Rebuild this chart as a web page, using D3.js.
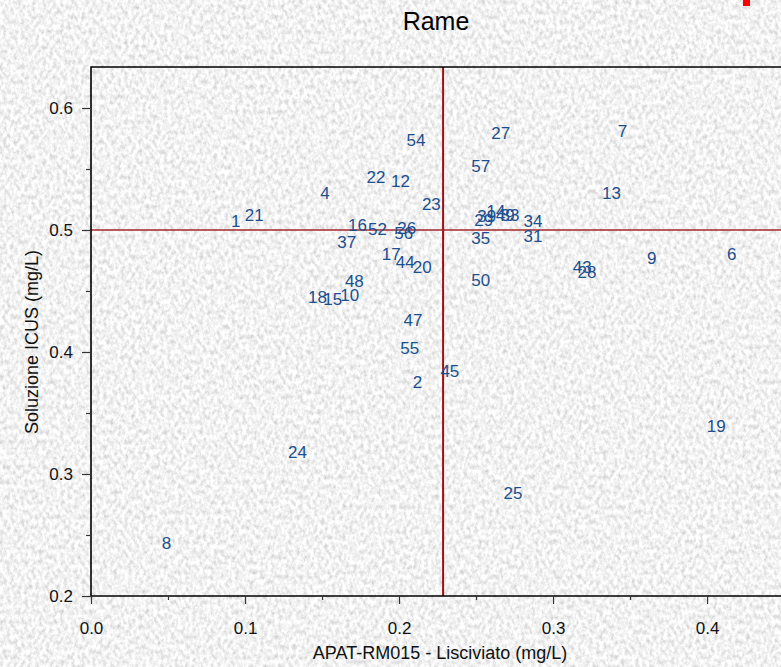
<!DOCTYPE html>
<html>
<head>
<meta charset="utf-8">
<script src="https://cdn.jsdelivr.net/npm/d3@7/dist/d3.min.js"></script>
<style>
  html, body { margin: 0; padding: 0; background: #e4e4e4; }
  svg { display: block; }
  text { font-family: "Liberation Sans", Arial, sans-serif; }
</style>
</head>
<body>
<svg id="chart" width="781" height="667"></svg>
<script>
// Copper (Rame): leachate concentration vs. ICUS solution, one label per sample
const sampleIds = ["54","27","7","57","22","12","4","13","23","1","21","16","52","26","56","37",
  "29","39","14","49","33","34","35","31","17","44","20","48","18","15","10","50","43","28",
  "9","6","47","55","45","2","19","24","25","8"];
const leachate = [0.211,0.266,0.345,0.253,0.185,0.201,0.152,0.338,0.221,0.094,0.106,0.173,0.186,0.205,0.203,0.166,
  0.255,0.257,0.263,0.269,0.272,0.287,0.253,0.287,0.195,0.204,0.215,0.171,0.147,0.157,0.168,0.253,0.319,0.322,
  0.364,0.416,0.209,0.207,0.233,0.212,0.406,0.134,0.274,0.049];
const icus = [0.573,0.579,0.581,0.552,0.543,0.540,0.530,0.530,0.521,0.507,0.512,0.504,0.500,0.501,0.497,0.490,
  0.508,0.511,0.515,0.512,0.512,0.507,0.493,0.495,0.480,0.473,0.469,0.458,0.445,0.443,0.446,0.459,0.469,0.465,
  0.477,0.480,0.426,0.403,0.384,0.375,0.339,0.318,0.284,0.243];
const xTicks = [0.0, 0.1, 0.2, 0.3, 0.4];
const xMinorTicks = [0.05, 0.15, 0.25, 0.35, 0.45];
const yTicks = [0.2, 0.3, 0.4, 0.5, 0.6];
const yMinorTicks = [0.25, 0.35, 0.45, 0.55];
const refX = 0.2286;   // reference value on the leachate axis
const refY = 0.5;      // reference value on the ICUS axis

const svg = d3.select("#chart");
const W = 781, H = 667;
const m = { left: 91, top: 67, bottom: 596 };

// textured grey background
const defs = svg.append("defs");
const f = defs.append("filter").attr("id", "grain").attr("x", 0).attr("y", 0)
  .attr("width", "100%").attr("height", "100%");
f.append("feTurbulence").attr("type", "fractalNoise").attr("baseFrequency", "0.28 0.2")
  .attr("numOctaves", 3).attr("seed", 7).attr("result", "n");
f.append("feColorMatrix").attr("type", "matrix")
  .attr("values", "0.7 0 0 0 0.54  0.7 0 0 0 0.54  0.7 0 0 0 0.54  0 0 0 0 1");
svg.append("rect").attr("width", W).attr("height", H).attr("filter", "url(#grain)");

const x = d3.scaleLinear().domain([0, 0.448]).range([m.left, W]);
const y = d3.scaleLinear().domain([0.2, 0.6336]).range([m.bottom, m.top]);

// reference lines
svg.append("line").attr("x1", x(refX)).attr("x2", x(refX)).attr("y1", m.top).attr("y2", m.bottom)
  .attr("stroke", "#9e1016").attr("stroke-width", 2);
svg.append("line").attr("x1", m.left).attr("x2", W).attr("y1", y(refY)).attr("y2", y(refY))
  .attr("stroke", "#a3262b").attr("stroke-width", 1.3);

// frame
svg.append("path")
  .attr("d", `M${W + 2},${m.top}H${m.left}V${m.bottom}H${W + 2}`)
  .attr("fill", "none").attr("stroke", "#000").attr("stroke-width", 1.6);

// axes
const fmt = d3.format(".1f");
const gx = svg.append("g").attr("transform", `translate(0,${m.bottom})`)
  .call(d3.axisBottom(x).tickValues(xTicks).tickFormat(fmt).tickSize(8).tickSizeOuter(0).tickPadding(18));
const gxm = svg.append("g").attr("transform", `translate(0,${m.bottom})`)
  .call(d3.axisBottom(x).tickValues(xMinorTicks).tickFormat("").tickSize(4).tickSizeOuter(0));
const gy = svg.append("g").attr("transform", `translate(${m.left},0)`)
  .call(d3.axisLeft(y).tickValues(yTicks).tickFormat(fmt).tickSize(9).tickSizeOuter(0).tickPadding(9));
const gym = svg.append("g").attr("transform", `translate(${m.left},0)`)
  .call(d3.axisLeft(y).tickValues(yMinorTicks).tickFormat("").tickSize(5).tickSizeOuter(0));
[gx, gxm, gy, gym].forEach(g => {
  g.select(".domain").remove();
  g.selectAll(".tick line").attr("stroke", "#333").attr("stroke-width", 1.2);
  g.selectAll(".tick text").attr("fill", "#111").style("font-size", "17px")
    .style("font-family", "'Liberation Sans', Arial, sans-serif");
});

// sample labels
svg.append("g").selectAll("text").data(sampleIds).join("text")
  .attr("x", (d, i) => x(leachate[i]))
  .attr("y", (d, i) => y(icus[i]))
  .attr("text-anchor", "middle").attr("dominant-baseline", "central")
  .attr("fill", "#1b4f8e").style("font-size", "17px")
  .text(d => d);

// titles
svg.append("text").attr("x", (m.left + W) / 2).attr("y", 30).attr("text-anchor", "middle")
  .style("font-size", "25px").attr("fill", "#000").text("Rame");
svg.append("text").attr("x", 440).attr("y", 659).attr("text-anchor", "middle")
  .style("font-size", "18px").attr("fill", "#111").text("APAT-RM015 - Lisciviato (mg/L)");
svg.append("text").attr("transform", `translate(38,342) rotate(-90)`)
  .attr("text-anchor", "middle").style("font-size", "18px").attr("fill", "#111")
  .text("Soluzione ICUS (mg/L)");

// small red marker at the top edge
svg.append("rect").attr("x", 743).attr("y", 0).attr("width", 7).attr("height", 6).attr("fill", "#f00");
</script>
</body>
</html>
